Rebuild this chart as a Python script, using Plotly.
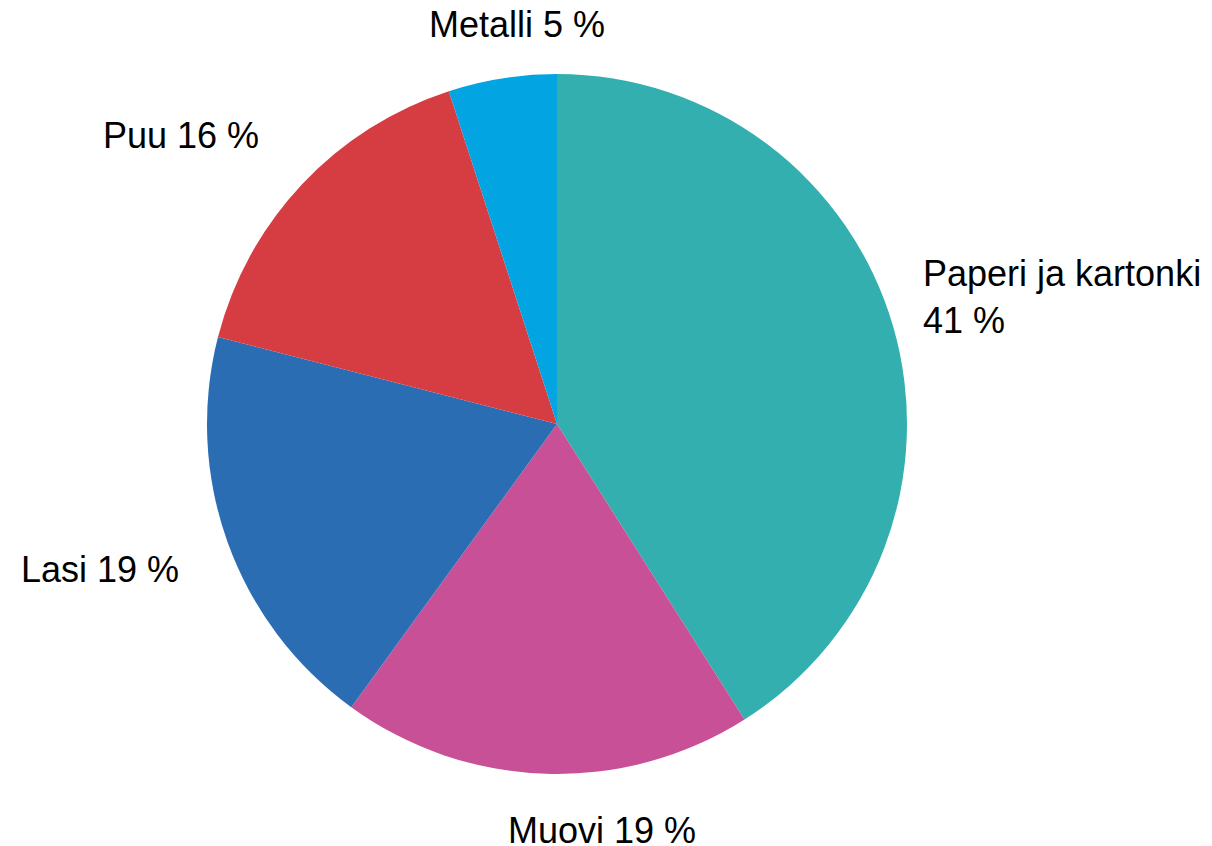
import plotly.graph_objects as go

labels = ["Paperi ja kartonki", "Muovi", "Lasi", "Puu", "Metalli"]
values = [41, 19, 19, 16, 5]
colors = ["#33AFB0", "#C75096", "#2B6DB3", "#D63D42", "#02A4E1"]
label_texts = ["Paperi ja kartonki<br>41 %", "Muovi 19 %", "Lasi 19 %", "Puu 16 %", "Metalli 5 %"]

# label placement (pixel positions in the browser window) and anchors
label_px = [(921, 297), (602, 830), (100, 569), (181, 135), (517, 25)]
label_xanchor = ["left", "center", "center", "center", "center"]

OFF = 8  # default page margin around the plot div
W, H = 1212 - OFF, 846 - OFF
ML, MT = 0, 74 - OFF
PW = PH = 700
MR = W - ML - PW - 398 - 0  # plot area width 1098 -> centre x = 549
PW = W - ML - MR
MB = H - MT - PH

fig = go.Figure(go.Pie(
    labels=labels,
    values=values,
    textinfo="none",
    sort=False,
    direction="clockwise",
    rotation=0,
    marker=dict(colors=colors, line=dict(width=0)),
    showlegend=False,
    hoverinfo="label+value",
))

annotations = []
for txt, (px, py), xa in zip(label_texts, label_px, label_xanchor):
    annotations.append(dict(
        text=txt,
        xref="paper", yref="paper",
        x=(px - OFF - ML) / PW,
        y=1 - (py - OFF - MT) / PH,
        xanchor=xa, yanchor="middle",
        align="left",
        showarrow=False,
        font=dict(family="Liberation Sans, Arial, sans-serif", size=36, color="#000000"),
    ))

fig.update_layout(
    width=W,
    height=H,
    margin=dict(l=ML, r=MR, t=MT, b=MB),
    paper_bgcolor="white",
    plot_bgcolor="white",
    annotations=annotations,
)

fig.write_html("out.html")
